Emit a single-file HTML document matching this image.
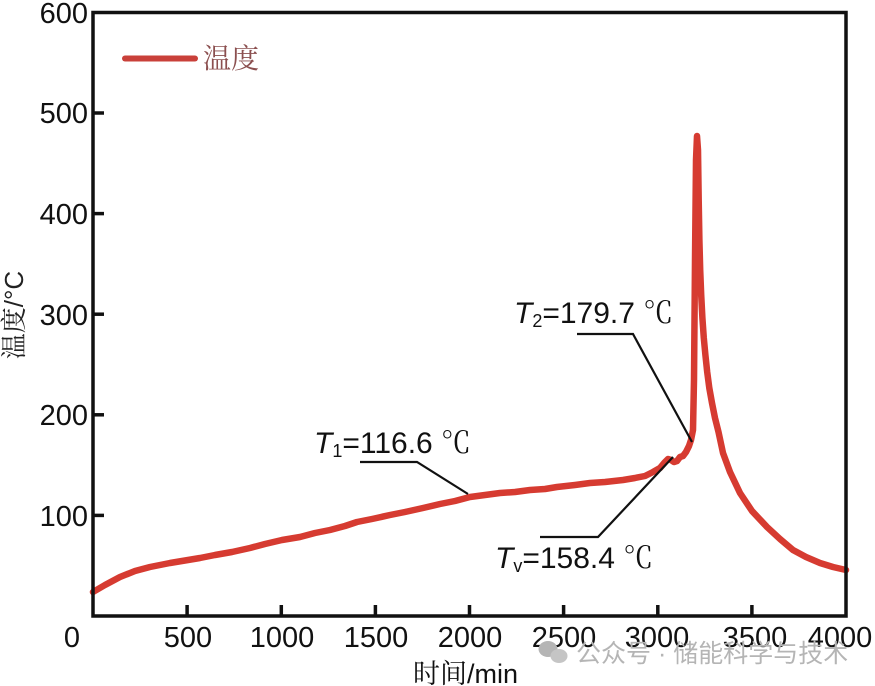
<!DOCTYPE html>
<html><head><meta charset="utf-8"><style>
html,body{margin:0;padding:0;background:#fff;}
svg{display:block;}
</style></head><body>
<svg width="875" height="686" viewBox="0 0 875 686" xmlns="http://www.w3.org/2000/svg">
<rect width="875" height="686" fill="#fff"/>
<!-- curve -->
<polyline fill="none" stroke="#d63b31" stroke-width="6.5" stroke-linejoin="round" stroke-linecap="round"
points="93,592 105,585 120,577 135,571 150,567 170,563 188,560 200,558 215,555 232,552 250,548 265,544 282,540 300,537 315,533 330,530 345,526 357,522 372,519 390,515 405,512 423,508 440,504 455,501 470,497 485,495 500,493 515,492 530,490 545,489 557,487 575,485 590,483 605,482 623,480 635,478 645,476 653,472 660,468 665,462 668,459 671,460 674,462 677,461 680,457 683,456 686,452 689,446 691,440 693,430 694,380 695,260 696,160 697,136 698,150 698.7,200 699.4,240 700.2,270 701.2,295 702.4,318 703.8,338 705.4,355 707.2,372 709.3,388 712,403 715,418 718.5,432 723,453 730,472 740,493 752,511 767,527 780,539 793,550 806,557 820,563 833,567 846,570"/>
<!-- frame -->
<rect x="93" y="12.5" width="753" height="603.5" fill="none" stroke="#111" stroke-width="3.5"/>
<!-- ticks -->
<g stroke="#111" stroke-width="3.5">
<line x1="187.1" y1="616" x2="187.1" y2="605"/>
<line x1="281.3" y1="616" x2="281.3" y2="605"/>
<line x1="375.4" y1="616" x2="375.4" y2="605"/>
<line x1="469.5" y1="616" x2="469.5" y2="605"/>
<line x1="563.6" y1="616" x2="563.6" y2="605"/>
<line x1="657.8" y1="616" x2="657.8" y2="605"/>
<line x1="751.9" y1="616" x2="751.9" y2="605"/>
<line x1="93" y1="515.4" x2="104" y2="515.4"/>
<line x1="93" y1="414.8" x2="104" y2="414.8"/>
<line x1="93" y1="314.2" x2="104" y2="314.2"/>
<line x1="93" y1="213.6" x2="104" y2="213.6"/>
<line x1="93" y1="113" x2="104" y2="113"/>
</g>
<!-- y labels -->
<g font-family="Liberation Sans, sans-serif" font-size="29" fill="#111" text-anchor="end">
<text x="88" y="23">600</text>
<text x="88" y="123">500</text>
<text x="88" y="224">400</text>
<text x="88" y="325">300</text>
<text x="88" y="425">200</text>
<text x="88" y="526">100</text>
</g>
<!-- x labels -->
<g font-family="Liberation Sans, sans-serif" font-size="29" fill="#111" text-anchor="middle">
<text x="72" y="647">0</text>
<text x="188" y="647">500</text>
<text x="282" y="647">1000</text>
<text x="376" y="647">1500</text>
<text x="470" y="647">2000</text>
<text x="564" y="647">2500</text>
<text x="657" y="647">3000</text>
<text x="755" y="647">3500</text>
<text x="840" y="647">4000</text>
</g>
<!-- watermark -->
<g fill="#b5b5b5">
<ellipse cx="548" cy="649" rx="9.5" ry="8"/>
<ellipse cx="559" cy="656" rx="8.5" ry="7" fill="#c5c5c5"/>
<text x="576" y="662" font-family="Liberation Sans, Noto Sans CJK SC, sans-serif" font-size="25">公众号 · 储能科学与技术</text>
</g>
<!-- axis titles -->
<text x="413" y="683" font-family="Liberation Sans, Noto Serif CJK SC, sans-serif" font-size="27" fill="#111">时间/min</text>
<text transform="translate(23,315) rotate(-90)" text-anchor="middle" font-family="Liberation Sans, Noto Serif CJK SC, sans-serif" font-size="26" fill="#222">温度/°C</text>
<!-- legend -->
<line x1="125" y1="58.5" x2="195" y2="58.5" stroke="#c9403a" stroke-width="6" stroke-linecap="round"/>
<text x="203" y="68" font-family="Noto Serif CJK SC, serif" font-size="28" fill="#8b4f4f">温度</text>
<!-- annotation pointers -->
<g stroke="#111" stroke-width="2.2" fill="none">
<polyline points="360,462 417,462 468,494"/>
<polyline points="540,537 598,537 673,457"/>
<polyline points="577,334 633,334 692,442"/>
</g>
<!-- annotations -->
<g font-family="Liberation Sans, sans-serif" font-size="30" fill="#111">
<text x="314" y="453"><tspan font-style="italic">T</tspan><tspan font-size="18" dy="4">1</tspan><tspan dy="-4">=116.6 </tspan><tspan font-family="Liberation Serif, Noto Serif CJK SC, serif" font-size="30">℃</tspan></text>
<text x="495" y="568"><tspan font-style="italic">T</tspan><tspan font-size="18" dy="4">v</tspan><tspan dy="-4">=158.4 </tspan><tspan font-family="Liberation Serif, Noto Serif CJK SC, serif" font-size="30">℃</tspan></text>
<text x="514" y="323"><tspan font-style="italic">T</tspan><tspan font-size="18" dy="4">2</tspan><tspan dy="-4">=179.7 </tspan><tspan font-family="Liberation Serif, Noto Serif CJK SC, serif" font-size="30">℃</tspan></text>
</g>
</svg>
</body></html>
